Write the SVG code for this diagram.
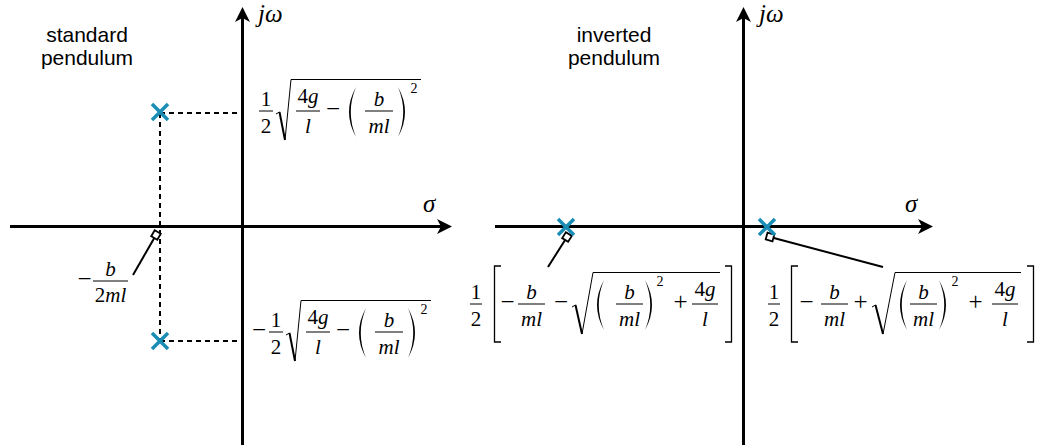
<svg xmlns="http://www.w3.org/2000/svg" width="1042" height="448" viewBox="0 0 1042 448">
<style>
.ax{stroke:#000;stroke-width:3;fill:none}
.dash{stroke:#000;stroke-width:2;stroke-dasharray:5 4;fill:none}
.pole{stroke:#1a8db5;stroke-width:3.5;fill:none}
.lead{stroke:#000;stroke-width:2;fill:none}
.sq{fill:#fff;stroke:#000;stroke-width:1.8}
.lbl{font-family:"Liberation Sans",Arial,sans-serif;font-size:21px;text-anchor:middle;fill:#000}
.m{font-family:"Liberation Serif","Times New Roman",serif;font-size:21px;fill:#000}
.op{font-size:25px}
.c{text-anchor:middle}
.i{font-style:italic}
.ax-l{font-family:"Liberation Serif","Times New Roman",serif;font-size:25px;font-style:italic;fill:#000}
.sup{font-size:14px}
.bar{stroke:#000;stroke-width:1;fill:none}
.rad{stroke:#000;stroke-width:1;fill:none}
.radk{stroke:#000;stroke-width:2;fill:none}
.brk{stroke:#000;stroke-width:1.3;fill:none}
.par{fill:#000;stroke:none}
</style>
<defs>
<marker id="arr" markerUnits="userSpaceOnUse" markerWidth="20" markerHeight="20" viewBox="-5 -10 20 20" refX="0" refY="0" orient="auto">
<path d="M11,0 L-4,-7.5 L0,0 L-4,7.5 Z" fill="#000"/>
</marker>
</defs>

<g id="connectors">
<path class="ax" d="M10,226.5 H441" marker-end="url(#arr)"/>
<path class="ax" d="M242.5,445 V18" marker-end="url(#arr)"/>
<path class="ax" d="M495,226.5 H922" marker-end="url(#arr)"/>
<path class="ax" d="M743.5,445 V18" marker-end="url(#arr)"/>
<path class="dash" d="M160,113 H241"/>
<path class="dash" d="M160,113 V341"/>
<path class="dash" d="M160,341 H241"/>
<path class="lead" d="M156,235 L133,275"/>
<path class="lead" d="M567,237 L548,267"/>
<path class="lead" d="M770,237 L883,267"/>
<rect class="sq" x="-3.5" y="-3.5" width="7" height="7" transform="translate(156,235) rotate(120)"/>
<rect class="sq" x="-3.5" y="-3.5" width="7" height="7" transform="translate(567,237) rotate(122)"/>
<rect class="sq" x="-3.5" y="-3.5" width="7" height="7" transform="translate(770,237) rotate(15)"/>
</g>

<g id="title-standard">
<text class="lbl" x="87" y="42">standard</text>
<text class="lbl" x="87" y="65">pendulum</text>
</g>
<g id="title-inverted">
<text class="lbl" x="614" y="42">inverted</text>
<text class="lbl" x="614" y="65">pendulum</text>
</g>

<g id="axis-labels">
<text class="ax-l" x="258" y="22">jω</text>
<text class="ax-l" x="423" y="212">σ</text>
<text class="ax-l" x="759" y="22">jω</text>
<text class="ax-l" x="905" y="212">σ</text>
</g>

<g id="poles">
<path class="pole" d="M152,104 L168,120 M152,120 L168,104"/>
<path class="pole" d="M152,333 L168,349 M152,349 L168,333"/>
<path class="pole" d="M558,219 L574,235 M558,235 L574,219"/>
<path class="pole" d="M759,219 L775,235 M759,235 L775,219"/>
</g>

<g id="formula-upper">
<text class="m c" x="266" y="106">1</text>
<path class="bar" d="M259,111 H273"/>
<text class="m c" x="266" y="133">2</text>
<path class="rad" d="M276,114 L279.5,112"/>
<path class="radk" d="M279.5,112 L285,140"/>
<path class="rad" d="M285,140 L291,79.5 H421"/>
<text class="m c" x="308" y="103">4<tspan class="i">g</tspan></text>
<path class="bar" d="M296,111 H320"/>
<text class="m c i" x="308" y="133">l</text>
<text class="m op c" x="333" y="117">−</text>
<path class="par" d="M356,87 Q342,112 356,137 Q345.5,112 356,87 Z"/>
<text class="m c i" x="379" y="106">b</text>
<path class="bar" d="M365,111 H393"/>
<text class="m c i" x="379" y="133">ml</text>
<path class="par" d="M398,87 Q412,112 398,137 Q408.5,112 398,87 Z"/>
<text class="m c sup" x="414" y="93">2</text>
</g>

<g id="formula-lower" transform="translate(10,221)">
<text class="m op c" x="249" y="117">−</text>
<text class="m c" x="266" y="106">1</text>
<path class="bar" d="M259,111 H273"/>
<text class="m c" x="266" y="133">2</text>
<path class="rad" d="M276,114 L279.5,112"/>
<path class="radk" d="M279.5,112 L285,140"/>
<path class="rad" d="M285,140 L291,79.5 H421"/>
<text class="m c" x="308" y="103">4<tspan class="i">g</tspan></text>
<path class="bar" d="M296,111 H320"/>
<text class="m c i" x="308" y="133">l</text>
<text class="m op c" x="333" y="117">−</text>
<path class="par" d="M356,87 Q342,112 356,137 Q345.5,112 356,87 Z"/>
<text class="m c i" x="379" y="106">b</text>
<path class="bar" d="M365,111 H393"/>
<text class="m c i" x="379" y="133">ml</text>
<path class="par" d="M398,87 Q412,112 398,137 Q408.5,112 398,87 Z"/>
<text class="m c sup" x="414" y="93">2</text>
</g>

<g id="formula-real">
<text class="m op c" x="84.5" y="287">−</text>
<text class="m c i" x="110.5" y="276">b</text>
<path class="bar" d="M93,281 H128"/>
<text class="m c" x="110.5" y="302">2<tspan class="i">ml</tspan></text>
</g>

<g id="formula-root-neg">
<text class="m c" x="476" y="299">1</text>
<path class="bar" d="M470,304 H482"/>
<text class="m c" x="476" y="326">2</text>
<path class="brk" d="M501,266 H494.5 V342 H501"/>
<text class="m op c" x="507.5" y="310">−</text>
<text class="m c i" x="531.5" y="299">b</text>
<path class="bar" d="M518,304 H545"/>
<text class="m c i" x="531.5" y="326">ml</text>
<text class="m op c" x="561" y="310">−</text>
<path class="rad" d="M572,307 L575.5,305"/>
<path class="radk" d="M575.5,305 L582,334"/>
<path class="rad" d="M582,334 L593,272.5 H720"/>
<path class="par" d="M604,280 Q590,305 604,330 Q593.5,305 604,280 Z"/>
<text class="m c i" x="629.5" y="299">b</text>
<path class="bar" d="M616,304 H643"/>
<text class="m c i" x="629.5" y="326">ml</text>
<path class="par" d="M645,280 Q659,305 645,330 Q655.5,305 645,280 Z"/>
<text class="m c sup" x="660" y="286">2</text>
<text class="m op c" x="680.5" y="310">+</text>
<text class="m c" x="705" y="296">4<tspan class="i">g</tspan></text>
<path class="bar" d="M692,304 H718"/>
<text class="m c i" x="705" y="326">l</text>
<path class="brk" d="M725,266 H731.5 V342 H725"/>
</g>

<g id="formula-root-pos">
<text class="m c" x="774" y="299">1</text>
<path class="bar" d="M768,304 H780"/>
<text class="m c" x="774" y="326">2</text>
<path class="brk" d="M798,266 H791.5 V342 H798"/>
<text class="m op c" x="806.5" y="310">−</text>
<text class="m c i" x="834.5" y="299">b</text>
<path class="bar" d="M821,304 H848"/>
<text class="m c i" x="834.5" y="326">ml</text>
<text class="m op c" x="860.5" y="310">+</text>
<path class="rad" d="M872,307 L875.5,305"/>
<path class="radk" d="M875.5,305 L883,334"/>
<path class="rad" d="M883,334 L895,272.5 H1021"/>
<path class="par" d="M907,280 Q893,305 907,330 Q896.5,305 907,280 Z"/>
<text class="m c i" x="923.5" y="299">b</text>
<path class="bar" d="M910,304 H937"/>
<text class="m c i" x="923.5" y="326">ml</text>
<path class="par" d="M939,280 Q953,305 939,330 Q949.5,305 939,280 Z"/>
<text class="m c sup" x="955" y="286">2</text>
<text class="m op c" x="975.5" y="310">+</text>
<text class="m c" x="1005" y="296">4<tspan class="i">g</tspan></text>
<path class="bar" d="M992,304 H1018"/>
<text class="m c i" x="1005" y="326">l</text>
<path class="brk" d="M1027,266 H1033.5 V342 H1027"/>
</g>
</svg>
